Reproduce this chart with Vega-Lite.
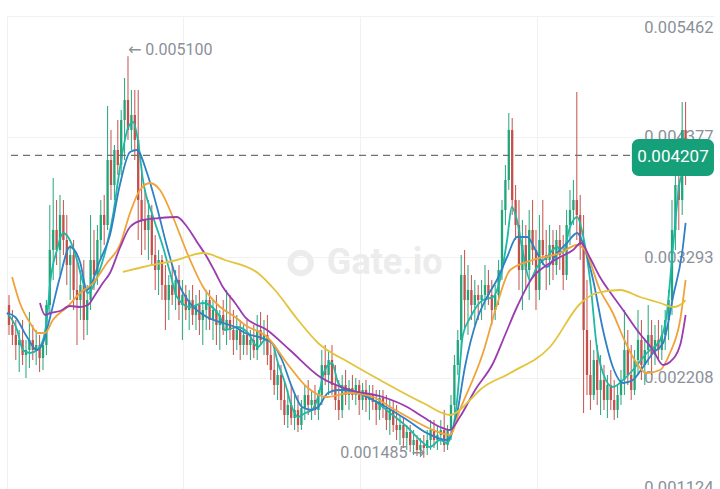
{
"$schema": "https://vega.github.io/schema/vega-lite/v6.json",
"autosize": "none",
"width": 707,
"height": 482,
"padding": {"left": 7, "top": 16, "right": 6, "bottom": 0},
"background": "white",
"config": {"view": {"stroke": null}},
"datasets": {
"candles": [
{"t":0,"open":0.002861,"high":0.002951,"low":0.002591,"close":0.002681},
{"t":1,"open":0.002681,"high":0.002816,"low":0.002501,"close":0.002591},
{"t":2,"open":0.002591,"high":0.002726,"low":0.002366,"close":0.002501},
{"t":3,"open":0.002501,"high":0.002636,"low":0.002258,"close":0.002546},
{"t":4,"open":0.002546,"high":0.002726,"low":0.002321,"close":0.002411},
{"t":5,"open":0.002411,"high":0.002546,"low":0.002204,"close":0.002456},
{"t":6,"open":0.002456,"high":0.002798,"low":0.002294,"close":0.002546},
{"t":7,"open":0.002546,"high":0.002681,"low":0.002366,"close":0.002456},
{"t":8,"open":0.002456,"high":0.002636,"low":0.002321,"close":0.002501},
{"t":9,"open":0.002501,"high":0.002591,"low":0.002258,"close":0.002384},
{"t":10,"open":0.002384,"high":0.002546,"low":0.002276,"close":0.002501},
{"t":11,"open":0.002501,"high":0.002906,"low":0.002411,"close":0.002861},
{"t":12,"open":0.002861,"high":0.003761,"low":0.002771,"close":0.003356},
{"t":13,"open":0.003356,"high":0.004004,"low":0.003086,"close":0.003536},
{"t":14,"open":0.003536,"high":0.003806,"low":0.003221,"close":0.003356},
{"t":15,"open":0.003356,"high":0.003851,"low":0.003131,"close":0.003671},
{"t":16,"open":0.003671,"high":0.003806,"low":0.003311,"close":0.003446},
{"t":17,"open":0.003446,"high":0.003671,"low":0.003041,"close":0.003221},
{"t":18,"open":0.003221,"high":0.003401,"low":0.002906,"close":0.003311},
{"t":19,"open":0.003311,"high":0.003446,"low":0.002816,"close":0.002996},
{"t":20,"open":0.002996,"high":0.003266,"low":0.002501,"close":0.002906},
{"t":21,"open":0.002906,"high":0.003176,"low":0.002726,"close":0.003041},
{"t":22,"open":0.003041,"high":0.003266,"low":0.002546,"close":0.002726},
{"t":23,"open":0.002726,"high":0.003041,"low":0.002591,"close":0.002906},
{"t":24,"open":0.002906,"high":0.003671,"low":0.002816,"close":0.003266},
{"t":25,"open":0.003266,"high":0.003536,"low":0.002996,"close":0.003131},
{"t":26,"open":0.003131,"high":0.003581,"low":0.003041,"close":0.003446},
{"t":27,"open":0.003446,"high":0.003806,"low":0.003266,"close":0.003671},
{"t":28,"open":0.003671,"high":0.003851,"low":0.003401,"close":0.003581},
{"t":29,"open":0.003581,"high":0.004652,"low":0.003536,"close":0.004166},
{"t":30,"open":0.004166,"high":0.004436,"low":0.003806,"close":0.003941},
{"t":31,"open":0.003941,"high":0.004301,"low":0.003806,"close":0.004256},
{"t":32,"open":0.004256,"high":0.004526,"low":0.004031,"close":0.004121},
{"t":33,"open":0.004121,"high":0.004616,"low":0.004031,"close":0.004526},
{"t":34,"open":0.004526,"high":0.004904,"low":0.004166,"close":0.004706},
{"t":35,"open":0.004706,"high":0.005100,"low":0.004346,"close":0.004436},
{"t":36,"open":0.004436,"high":0.004796,"low":0.004256,"close":0.004571},
{"t":37,"open":0.004571,"high":0.004796,"low":0.004166,"close":0.004346},
{"t":38,"open":0.004346,"high":0.004796,"low":0.003446,"close":0.003806},
{"t":39,"open":0.003806,"high":0.004121,"low":0.003311,"close":0.003626},
{"t":40,"open":0.003626,"high":0.003896,"low":0.003356,"close":0.003536},
{"t":41,"open":0.003536,"high":0.003806,"low":0.003266,"close":0.003671},
{"t":42,"open":0.003671,"high":0.003761,"low":0.003221,"close":0.003311},
{"t":43,"open":0.003311,"high":0.003491,"low":0.002996,"close":0.003176},
{"t":44,"open":0.003176,"high":0.003356,"low":0.002951,"close":0.003266},
{"t":45,"open":0.003266,"high":0.003311,"low":0.002906,"close":0.003041},
{"t":46,"open":0.003041,"high":0.003221,"low":0.002636,"close":0.002906},
{"t":47,"open":0.002906,"high":0.003131,"low":0.002726,"close":0.003041},
{"t":48,"open":0.003041,"high":0.003221,"low":0.002861,"close":0.002951},
{"t":49,"open":0.002951,"high":0.003176,"low":0.002816,"close":0.003086},
{"t":50,"open":0.003086,"high":0.003221,"low":0.002726,"close":0.002861},
{"t":51,"open":0.002861,"high":0.003086,"low":0.002546,"close":0.002951},
{"t":52,"open":0.002951,"high":0.003041,"low":0.002726,"close":0.002816},
{"t":53,"open":0.002816,"high":0.002996,"low":0.002636,"close":0.002906},
{"t":54,"open":0.002906,"high":0.003041,"low":0.002681,"close":0.002771},
{"t":55,"open":0.002771,"high":0.002951,"low":0.002636,"close":0.002861},
{"t":56,"open":0.002861,"high":0.002996,"low":0.002591,"close":0.002726},
{"t":57,"open":0.002726,"high":0.002906,"low":0.002501,"close":0.002816},
{"t":58,"open":0.002816,"high":0.002996,"low":0.002636,"close":0.002906},
{"t":59,"open":0.002906,"high":0.002996,"low":0.002636,"close":0.002726},
{"t":60,"open":0.002726,"high":0.002906,"low":0.002546,"close":0.002816},
{"t":61,"open":0.002816,"high":0.002951,"low":0.002501,"close":0.002681},
{"t":62,"open":0.002681,"high":0.002816,"low":0.002456,"close":0.002771},
{"t":63,"open":0.002771,"high":0.002906,"low":0.002591,"close":0.002636},
{"t":64,"open":0.002636,"high":0.002996,"low":0.002501,"close":0.002726},
{"t":65,"open":0.002726,"high":0.002951,"low":0.002546,"close":0.002636},
{"t":66,"open":0.002636,"high":0.002816,"low":0.002411,"close":0.002546},
{"t":67,"open":0.002546,"high":0.002771,"low":0.002456,"close":0.002636},
{"t":68,"open":0.002636,"high":0.002726,"low":0.002366,"close":0.002501},
{"t":69,"open":0.002501,"high":0.002681,"low":0.002411,"close":0.002591},
{"t":70,"open":0.002591,"high":0.002726,"low":0.002411,"close":0.002501},
{"t":71,"open":0.002501,"high":0.002636,"low":0.002366,"close":0.002546},
{"t":72,"open":0.002546,"high":0.002681,"low":0.002384,"close":0.002456},
{"t":73,"open":0.002456,"high":0.002771,"low":0.002366,"close":0.002636},
{"t":74,"open":0.002636,"high":0.002798,"low":0.002501,"close":0.002546},
{"t":75,"open":0.002546,"high":0.002726,"low":0.002411,"close":0.002591},
{"t":76,"open":0.002591,"high":0.002771,"low":0.002321,"close":0.002411},
{"t":77,"open":0.002411,"high":0.002546,"low":0.002186,"close":0.002276},
{"t":78,"open":0.002276,"high":0.002456,"low":0.002051,"close":0.002141},
{"t":79,"open":0.002141,"high":0.002366,"low":0.002006,"close":0.002231},
{"t":80,"open":0.002231,"high":0.002321,"low":0.001916,"close":0.002006},
{"t":81,"open":0.002006,"high":0.002186,"low":0.001781,"close":0.001871},
{"t":82,"open":0.001871,"high":0.002096,"low":0.001754,"close":0.001961},
{"t":83,"open":0.001961,"high":0.002141,"low":0.001781,"close":0.001844},
{"t":84,"open":0.001844,"high":0.002051,"low":0.001736,"close":0.001916},
{"t":85,"open":0.001916,"high":0.002051,"low":0.001718,"close":0.001781},
{"t":86,"open":0.001781,"high":0.002006,"low":0.001736,"close":0.001934},
{"t":87,"open":0.001934,"high":0.002141,"low":0.001826,"close":0.002051},
{"t":88,"open":0.002051,"high":0.002186,"low":0.001871,"close":0.001961},
{"t":89,"open":0.001961,"high":0.002096,"low":0.001826,"close":0.002006},
{"t":90,"open":0.002006,"high":0.002141,"low":0.001871,"close":0.001916},
{"t":91,"open":0.001916,"high":0.002096,"low":0.001826,"close":0.002051},
{"t":92,"open":0.002051,"high":0.002456,"low":0.001961,"close":0.002321},
{"t":93,"open":0.002321,"high":0.002501,"low":0.002141,"close":0.002231},
{"t":94,"open":0.002231,"high":0.002456,"low":0.002051,"close":0.002366},
{"t":95,"open":0.002366,"high":0.002501,"low":0.002051,"close":0.002141},
{"t":96,"open":0.002141,"high":0.002321,"low":0.001916,"close":0.002006},
{"t":97,"open":0.002006,"high":0.002186,"low":0.001826,"close":0.001916},
{"t":98,"open":0.001916,"high":0.002231,"low":0.001844,"close":0.002141},
{"t":99,"open":0.002141,"high":0.002276,"low":0.001961,"close":0.002051},
{"t":100,"open":0.002051,"high":0.002186,"low":0.001916,"close":0.002114},
{"t":101,"open":0.002114,"high":0.002231,"low":0.002006,"close":0.002051},
{"t":102,"open":0.002051,"high":0.002204,"low":0.001961,"close":0.002141},
{"t":103,"open":0.002141,"high":0.002186,"low":0.001871,"close":0.002006},
{"t":104,"open":0.002006,"high":0.002159,"low":0.001916,"close":0.002096},
{"t":105,"open":0.002096,"high":0.002186,"low":0.001898,"close":0.002006},
{"t":106,"open":0.002006,"high":0.002141,"low":0.001826,"close":0.002051},
{"t":107,"open":0.002051,"high":0.002141,"low":0.001916,"close":0.001988},
{"t":108,"open":0.001988,"high":0.002096,"low":0.001781,"close":0.001916},
{"t":109,"open":0.001916,"high":0.002096,"low":0.001826,"close":0.002024},
{"t":110,"open":0.002024,"high":0.002096,"low":0.001844,"close":0.001934},
{"t":111,"open":0.001934,"high":0.002051,"low":0.001736,"close":0.001826},
{"t":112,"open":0.001826,"high":0.002006,"low":0.001691,"close":0.001916},
{"t":113,"open":0.001916,"high":0.002006,"low":0.001718,"close":0.001781},
{"t":114,"open":0.001781,"high":0.001961,"low":0.001646,"close":0.001736},
{"t":115,"open":0.001736,"high":0.001871,"low":0.001601,"close":0.001781},
{"t":116,"open":0.001781,"high":0.001844,"low":0.001574,"close":0.001664},
{"t":117,"open":0.001664,"high":0.001781,"low":0.001556,"close":0.001718},
{"t":118,"open":0.001718,"high":0.001781,"low":0.001538,"close":0.001601},
{"t":119,"open":0.001601,"high":0.001736,"low":0.001511,"close":0.001646},
{"t":120,"open":0.001646,"high":0.001691,"low":0.001502,"close":0.001556},
{"t":121,"open":0.001556,"high":0.001664,"low":0.001493,"close":0.001601},
{"t":122,"open":0.001601,"high":0.001691,"low":0.001485,"close":0.001574},
{"t":123,"open":0.001574,"high":0.001736,"low":0.001511,"close":0.001646},
{"t":124,"open":0.001646,"high":0.001826,"low":0.001556,"close":0.001736},
{"t":125,"open":0.001736,"high":0.001826,"low":0.001574,"close":0.001646},
{"t":126,"open":0.001646,"high":0.001781,"low":0.001556,"close":0.001691},
{"t":127,"open":0.001691,"high":0.001826,"low":0.001601,"close":0.001736},
{"t":128,"open":0.001736,"high":0.001916,"low":0.001538,"close":0.001601},
{"t":129,"open":0.001601,"high":0.001781,"low":0.001556,"close":0.001736},
{"t":130,"open":0.001736,"high":0.002051,"low":0.001646,"close":0.001961},
{"t":131,"open":0.001961,"high":0.002411,"low":0.001871,"close":0.002321},
{"t":132,"open":0.002321,"high":0.002636,"low":0.002231,"close":0.002546},
{"t":133,"open":0.002546,"high":0.003311,"low":0.002456,"close":0.003131},
{"t":134,"open":0.003131,"high":0.003356,"low":0.002636,"close":0.002906},
{"t":135,"open":0.002906,"high":0.003221,"low":0.002591,"close":0.002996},
{"t":136,"open":0.002996,"high":0.003131,"low":0.002726,"close":0.002861},
{"t":137,"open":0.002861,"high":0.003086,"low":0.002681,"close":0.002951},
{"t":138,"open":0.002951,"high":0.003041,"low":0.002726,"close":0.002906},
{"t":139,"open":0.002906,"high":0.003086,"low":0.002726,"close":0.002951},
{"t":140,"open":0.002951,"high":0.003221,"low":0.002816,"close":0.003041},
{"t":141,"open":0.003041,"high":0.003176,"low":0.002861,"close":0.002951},
{"t":142,"open":0.002951,"high":0.003086,"low":0.002681,"close":0.002816},
{"t":143,"open":0.002816,"high":0.003041,"low":0.002726,"close":0.002951},
{"t":144,"open":0.002951,"high":0.003266,"low":0.002861,"close":0.003176},
{"t":145,"open":0.003176,"high":0.003806,"low":0.003086,"close":0.003716},
{"t":146,"open":0.003716,"high":0.004121,"low":0.003581,"close":0.003986},
{"t":147,"open":0.003986,"high":0.004589,"low":0.003896,"close":0.004436},
{"t":148,"open":0.004436,"high":0.004544,"low":0.003671,"close":0.003806},
{"t":149,"open":0.003806,"high":0.003941,"low":0.003446,"close":0.003581},
{"t":150,"open":0.003581,"high":0.003806,"low":0.002996,"close":0.003176},
{"t":151,"open":0.003176,"high":0.003626,"low":0.002816,"close":0.003401},
{"t":152,"open":0.003401,"high":0.003581,"low":0.002996,"close":0.003176},
{"t":153,"open":0.003176,"high":0.003716,"low":0.002906,"close":0.003536},
{"t":154,"open":0.003536,"high":0.003806,"low":0.003221,"close":0.003356},
{"t":155,"open":0.003356,"high":0.003536,"low":0.002816,"close":0.002996},
{"t":156,"open":0.002996,"high":0.003671,"low":0.002906,"close":0.003446},
{"t":157,"open":0.003446,"high":0.003806,"low":0.003221,"close":0.003311},
{"t":158,"open":0.003311,"high":0.003536,"low":0.002996,"close":0.003266},
{"t":159,"open":0.003266,"high":0.003581,"low":0.003041,"close":0.003401},
{"t":160,"open":0.003401,"high":0.003536,"low":0.003086,"close":0.003221},
{"t":161,"open":0.003221,"high":0.003536,"low":0.003131,"close":0.003446},
{"t":162,"open":0.003446,"high":0.003581,"low":0.003176,"close":0.003311},
{"t":163,"open":0.003311,"high":0.003491,"low":0.002996,"close":0.003131},
{"t":164,"open":0.003131,"high":0.003716,"low":0.003086,"close":0.003581},
{"t":165,"open":0.003581,"high":0.003896,"low":0.003401,"close":0.003716},
{"t":166,"open":0.003716,"high":0.003986,"low":0.003581,"close":0.003806},
{"t":167,"open":0.003806,"high":0.004778,"low":0.003446,"close":0.003671},
{"t":168,"open":0.003671,"high":0.003851,"low":0.003266,"close":0.003401},
{"t":169,"open":0.003401,"high":0.003671,"low":0.001889,"close":0.002636},
{"t":170,"open":0.002636,"high":0.003086,"low":0.002051,"close":0.002231},
{"t":171,"open":0.002231,"high":0.002546,"low":0.001916,"close":0.002051},
{"t":172,"open":0.002051,"high":0.002456,"low":0.002006,"close":0.002366},
{"t":173,"open":0.002366,"high":0.002501,"low":0.001961,"close":0.002096},
{"t":174,"open":0.002096,"high":0.002411,"low":0.001871,"close":0.002186},
{"t":175,"open":0.002186,"high":0.002321,"low":0.001916,"close":0.002006},
{"t":176,"open":0.002006,"high":0.002231,"low":0.001844,"close":0.002141},
{"t":177,"open":0.002141,"high":0.002276,"low":0.001916,"close":0.002006},
{"t":178,"open":0.002006,"high":0.002186,"low":0.001826,"close":0.001916},
{"t":179,"open":0.001916,"high":0.002141,"low":0.001844,"close":0.002051},
{"t":180,"open":0.002051,"high":0.002276,"low":0.001961,"close":0.002186},
{"t":181,"open":0.002186,"high":0.002816,"low":0.002051,"close":0.002456},
{"t":182,"open":0.002456,"high":0.002636,"low":0.002141,"close":0.002231},
{"t":183,"open":0.002231,"high":0.002501,"low":0.002006,"close":0.002096},
{"t":184,"open":0.002096,"high":0.002456,"low":0.002051,"close":0.002366},
{"t":185,"open":0.002366,"high":0.002816,"low":0.002231,"close":0.002546},
{"t":186,"open":0.002546,"high":0.002726,"low":0.002186,"close":0.002321},
{"t":187,"open":0.002321,"high":0.002546,"low":0.002141,"close":0.002456},
{"t":188,"open":0.002456,"high":0.002861,"low":0.002321,"close":0.002591},
{"t":189,"open":0.002591,"high":0.002726,"low":0.002231,"close":0.002411},
{"t":190,"open":0.002411,"high":0.002681,"low":0.002321,"close":0.002546},
{"t":191,"open":0.002546,"high":0.002726,"low":0.002366,"close":0.002456},
{"t":192,"open":0.002456,"high":0.002681,"low":0.002366,"close":0.002591},
{"t":193,"open":0.002591,"high":0.002816,"low":0.002456,"close":0.002726},
{"t":194,"open":0.002726,"high":0.002996,"low":0.002546,"close":0.002906},
{"t":195,"open":0.002906,"high":0.003806,"low":0.002771,"close":0.003536},
{"t":196,"open":0.003536,"high":0.004166,"low":0.003356,"close":0.003941},
{"t":197,"open":0.003941,"high":0.004346,"low":0.003536,"close":0.003806},
{"t":198,"open":0.003806,"high":0.004688,"low":0.003671,"close":0.004436},
{"t":199,"open":0.004436,"high":0.004688,"low":0.003941,"close":0.004207}
],
"ma": [
{"s":"MA5","t":-0.6,"v":0.002789},{"s":"MA5","t":2.4,"v":0.002636},{"s":"MA5","t":4.1,"v":0.002456},{"s":"MA5","t":6.2,"v":0.002429},{"s":"MA5","t":8.2,"v":0.002456},{"s":"MA5","t":10,"v":0.002546},{"s":"MA5","t":11.2,"v":0.002753},{"s":"MA5","t":12.1,"v":0.003059},{"s":"MA5","t":14.1,"v":0.003356},{"s":"MA5","t":15.9,"v":0.003509},{"s":"MA5","t":17.9,"v":0.003446},{"s":"MA5","t":20,"v":0.003266},{"s":"MA5","t":21.8,"v":0.003059},{"s":"MA5","t":23.2,"v":0.002969},{"s":"MA5","t":25.9,"v":0.003113},{"s":"MA5","t":28.8,"v":0.003401},{"s":"MA5","t":30.6,"v":0.003671},{"s":"MA5","t":32.1,"v":0.003986},{"s":"MA5","t":33.5,"v":0.004256},{"s":"MA5","t":35,"v":0.004454},{"s":"MA5","t":36.5,"v":0.004508},{"s":"MA5","t":37.9,"v":0.004346},{"s":"MA5","t":39.4,"v":0.003986},{"s":"MA5","t":42.4,"v":0.003653},{"s":"MA5","t":45.3,"v":0.003383},{"s":"MA5","t":47.4,"v":0.003149},{"s":"MA5","t":49.4,"v":0.002933},{"s":"MA5","t":53.2,"v":0.002843},{"s":"MA5","t":57.1,"v":0.002879},{"s":"MA5","t":62.1,"v":0.002753},{"s":"MA5","t":63.5,"v":0.002636},{"s":"MA5","t":67.4,"v":0.002663},{"s":"MA5","t":70.3,"v":0.002609},{"s":"MA5","t":73.2,"v":0.002483},{"s":"MA5","t":75.3,"v":0.002546},{"s":"MA5","t":77.4,"v":0.002519},{"s":"MA5","t":79.1,"v":0.002339},{"s":"MA5","t":81.2,"v":0.002159},{"s":"MA5","t":83.2,"v":0.001943},{"s":"MA5","t":85,"v":0.001853},{"s":"MA5","t":87.1,"v":0.001889},{"s":"MA5","t":89.1,"v":0.001916},{"s":"MA5","t":90.9,"v":0.002033},{"s":"MA5","t":92.9,"v":0.002276},{"s":"MA5","t":95,"v":0.002339},{"s":"MA5","t":96.8,"v":0.002159},{"s":"MA5","t":98.8,"v":0.002096},{"s":"MA5","t":102.4,"v":0.002069},{"s":"MA5","t":107.1,"v":0.002006},{"s":"MA5","t":112.1,"v":0.001889},{"s":"MA5","t":117.1,"v":0.001763},{"s":"MA5","t":120.9,"v":0.001646},{"s":"MA5","t":123.8,"v":0.001583},{"s":"MA5","t":126.8,"v":0.001646},{"s":"MA5","t":128.8,"v":0.001619},{"s":"MA5","t":130.3,"v":0.001709},{"s":"MA5","t":131.8,"v":0.002006},{"s":"MA5","t":133.5,"v":0.002591},{"s":"MA5","t":135.6,"v":0.002744},{"s":"MA5","t":139.4,"v":0.002906},{"s":"MA5","t":142.4,"v":0.002933},{"s":"MA5","t":144.4,"v":0.003086},{"s":"MA5","t":146.5,"v":0.003446},{"s":"MA5","t":147.9,"v":0.003743},{"s":"MA5","t":149.4,"v":0.003626},{"s":"MA5","t":151.2,"v":0.003329},{"s":"MA5","t":153.2,"v":0.003086},{"s":"MA5","t":155.3,"v":0.003203},{"s":"MA5","t":158.2,"v":0.003293},{"s":"MA5","t":161.2,"v":0.003383},{"s":"MA5","t":162.9,"v":0.003329},{"s":"MA5","t":165,"v":0.003563},{"s":"MA5","t":167.1,"v":0.003653},{"s":"MA5","t":168.8,"v":0.003491},{"s":"MA5","t":170.9,"v":0.003086},{"s":"MA5","t":172.9,"v":0.002483},{"s":"MA5","t":174.7,"v":0.002249},{"s":"MA5","t":177.6,"v":0.002123},{"s":"MA5","t":180.6,"v":0.002186},{"s":"MA5","t":183.5,"v":0.002276},{"s":"MA5","t":187.6,"v":0.002429},{"s":"MA5","t":191.5,"v":0.002546},{"s":"MA5","t":193.5,"v":0.002789},{"s":"MA5","t":195.3,"v":0.003383},{"s":"MA5","t":197.4,"v":0.003986},{"s":"MA5","t":198.8,"v":0.004076},
{"s":"MA10","t":-0.6,"v":0.002789},{"s":"MA10","t":1.8,"v":0.002753},{"s":"MA10","t":5.3,"v":0.002573},{"s":"MA10","t":8.2,"v":0.002456},{"s":"MA10","t":10,"v":0.002519},{"s":"MA10","t":12.1,"v":0.002753},{"s":"MA10","t":15,"v":0.003113},{"s":"MA10","t":17.9,"v":0.003383},{"s":"MA10","t":20.9,"v":0.003248},{"s":"MA10","t":22.9,"v":0.002996},{"s":"MA10","t":26.8,"v":0.003266},{"s":"MA10","t":29.7,"v":0.003491},{"s":"MA10","t":32.6,"v":0.003941},{"s":"MA10","t":35.6,"v":0.004238},{"s":"MA10","t":37.6,"v":0.004256},{"s":"MA10","t":40.6,"v":0.004049},{"s":"MA10","t":43.5,"v":0.003743},{"s":"MA10","t":46.5,"v":0.003383},{"s":"MA10","t":49.4,"v":0.003086},{"s":"MA10","t":53.2,"v":0.002879},{"s":"MA10","t":58.2,"v":0.002753},{"s":"MA10","t":62.9,"v":0.002699},{"s":"MA10","t":66.5,"v":0.002663},{"s":"MA10","t":69.4,"v":0.002609},{"s":"MA10","t":74.4,"v":0.002564},{"s":"MA10","t":77.4,"v":0.002519},{"s":"MA10","t":80.3,"v":0.002366},{"s":"MA10","t":83.2,"v":0.002123},{"s":"MA10","t":86.2,"v":0.001943},{"s":"MA10","t":89.1,"v":0.001916},{"s":"MA10","t":90.9,"v":0.001943},{"s":"MA10","t":93.8,"v":0.002069},{"s":"MA10","t":96.8,"v":0.002096},{"s":"MA10","t":99.7,"v":0.002096},{"s":"MA10","t":107.1,"v":0.002006},{"s":"MA10","t":117.1,"v":0.001826},{"s":"MA10","t":122.9,"v":0.001709},{"s":"MA10","t":128.8,"v":0.001646},{"s":"MA10","t":131.8,"v":0.001889},{"s":"MA10","t":134.1,"v":0.002303},{"s":"MA10","t":137.6,"v":0.002726},{"s":"MA10","t":140.6,"v":0.002933},{"s":"MA10","t":143.5,"v":0.003086},{"s":"MA10","t":146.5,"v":0.003293},{"s":"MA10","t":149.4,"v":0.003473},{"s":"MA10","t":152.4,"v":0.003473},{"s":"MA10","t":155.3,"v":0.003329},{"s":"MA10","t":158.2,"v":0.003203},{"s":"MA10","t":161.2,"v":0.003329},{"s":"MA10","t":164.1,"v":0.003419},{"s":"MA10","t":167.1,"v":0.003509},{"s":"MA10","t":168.8,"v":0.003419},{"s":"MA10","t":171.8,"v":0.003086},{"s":"MA10","t":174.7,"v":0.002636},{"s":"MA10","t":177.6,"v":0.002303},{"s":"MA10","t":180.6,"v":0.002159},{"s":"MA10","t":183.5,"v":0.002186},{"s":"MA10","t":186.5,"v":0.002303},{"s":"MA10","t":189.4,"v":0.002429},{"s":"MA10","t":192.4,"v":0.002519},{"s":"MA10","t":195.3,"v":0.002933},{"s":"MA10","t":198.2,"v":0.003383},{"s":"MA10","t":199,"v":0.003600},
{"s":"MA20","t":0.9,"v":0.003113},{"s":"MA20","t":3.2,"v":0.002879},{"s":"MA20","t":6.2,"v":0.002699},{"s":"MA20","t":8.5,"v":0.002609},{"s":"MA20","t":10.6,"v":0.002609},{"s":"MA20","t":12.9,"v":0.002726},{"s":"MA20","t":17.1,"v":0.002843},{"s":"MA20","t":20.9,"v":0.002969},{"s":"MA20","t":24.7,"v":0.003059},{"s":"MA20","t":28.8,"v":0.003239},{"s":"MA20","t":32.6,"v":0.003401},{"s":"MA20","t":35.6,"v":0.003689},{"s":"MA20","t":38.5,"v":0.003896},{"s":"MA20","t":41.5,"v":0.003959},{"s":"MA20","t":44.4,"v":0.003896},{"s":"MA20","t":48.2,"v":0.003653},{"s":"MA20","t":52.4,"v":0.003329},{"s":"MA20","t":57.1,"v":0.003023},{"s":"MA20","t":62.1,"v":0.002843},{"s":"MA20","t":66.5,"v":0.002753},{"s":"MA20","t":69.4,"v":0.002681},{"s":"MA20","t":75.9,"v":0.002573},{"s":"MA20","t":82.6,"v":0.002303},{"s":"MA20","t":87.6,"v":0.002123},{"s":"MA20","t":93.5,"v":0.002033},{"s":"MA20","t":100.3,"v":0.002069},{"s":"MA20","t":107.1,"v":0.002033},{"s":"MA20","t":112.1,"v":0.001943},{"s":"MA20","t":118.8,"v":0.001826},{"s":"MA20","t":124.7,"v":0.001736},{"s":"MA20","t":129.7,"v":0.001691},{"s":"MA20","t":132.6,"v":0.001916},{"s":"MA20","t":139.4,"v":0.002429},{"s":"MA20","t":143.5,"v":0.002861},{"s":"MA20","t":147.4,"v":0.003176},{"s":"MA20","t":154.1,"v":0.003266},{"s":"MA20","t":162.1,"v":0.003329},{"s":"MA20","t":167.1,"v":0.003401},{"s":"MA20","t":169.4,"v":0.003356},{"s":"MA20","t":173.8,"v":0.002996},{"s":"MA20","t":177.6,"v":0.002789},{"s":"MA20","t":180.6,"v":0.002573},{"s":"MA20","t":183.5,"v":0.002393},{"s":"MA20","t":187.6,"v":0.002249},{"s":"MA20","t":191.5,"v":0.002276},{"s":"MA20","t":194.4,"v":0.002429},{"s":"MA20","t":197.4,"v":0.002726},{"s":"MA20","t":199,"v":0.003086},
{"s":"MA30","t":9.1,"v":0.002879},{"s":"MA30","t":10.6,"v":0.002771},{"s":"MA30","t":12.1,"v":0.002789},{"s":"MA30","t":15,"v":0.002807},{"s":"MA30","t":17.9,"v":0.002852},{"s":"MA30","t":20.9,"v":0.002843},{"s":"MA30","t":23.2,"v":0.002861},{"s":"MA30","t":25.3,"v":0.002951},{"s":"MA30","t":27.6,"v":0.003059},{"s":"MA30","t":29.7,"v":0.003149},{"s":"MA30","t":32.6,"v":0.003374},{"s":"MA30","t":35.6,"v":0.003563},{"s":"MA30","t":39.4,"v":0.003626},{"s":"MA30","t":44.4,"v":0.003644},{"s":"MA30","t":49.4,"v":0.003653},{"s":"MA30","t":52.4,"v":0.003563},{"s":"MA30","t":55.3,"v":0.003428},{"s":"MA30","t":58.2,"v":0.003293},{"s":"MA30","t":60.6,"v":0.003158},{"s":"MA30","t":62.9,"v":0.003023},{"s":"MA30","t":66.5,"v":0.002879},{"s":"MA30","t":69.4,"v":0.002753},{"s":"MA30","t":75.9,"v":0.002636},{"s":"MA30","t":82.6,"v":0.002456},{"s":"MA30","t":91.5,"v":0.002213},{"s":"MA30","t":100.3,"v":0.002096},{"s":"MA30","t":110,"v":0.002033},{"s":"MA30","t":117.1,"v":0.001943},{"s":"MA30","t":121.8,"v":0.001853},{"s":"MA30","t":126.8,"v":0.001763},{"s":"MA30","t":129.7,"v":0.001736},{"s":"MA30","t":132.6,"v":0.001853},{"s":"MA30","t":137.1,"v":0.002096},{"s":"MA30","t":142.4,"v":0.002339},{"s":"MA30","t":145.9,"v":0.002591},{"s":"MA30","t":149.4,"v":0.002843},{"s":"MA30","t":154.1,"v":0.003113},{"s":"MA30","t":158.2,"v":0.003221},{"s":"MA30","t":162.1,"v":0.003293},{"s":"MA30","t":165.9,"v":0.003356},{"s":"MA30","t":168.2,"v":0.003419},{"s":"MA30","t":170.9,"v":0.003284},{"s":"MA30","t":173.8,"v":0.003113},{"s":"MA30","t":177.4,"v":0.002951},{"s":"MA30","t":180.6,"v":0.002816},{"s":"MA30","t":184.7,"v":0.002636},{"s":"MA30","t":189.4,"v":0.002456},{"s":"MA30","t":192.4,"v":0.002321},{"s":"MA30","t":194.4,"v":0.002348},{"s":"MA30","t":197.4,"v":0.002501},{"s":"MA30","t":199,"v":0.002771},
{"s":"MA60","t":33.5,"v":0.003158},{"s":"MA60","t":39.4,"v":0.003203},{"s":"MA60","t":49.4,"v":0.003266},{"s":"MA60","t":57.1,"v":0.003329},{"s":"MA60","t":63.5,"v":0.003266},{"s":"MA60","t":73.2,"v":0.003149},{"s":"MA60","t":78.2,"v":0.002996},{"s":"MA60","t":85,"v":0.002726},{"s":"MA60","t":90.9,"v":0.002519},{"s":"MA60","t":100.3,"v":0.002339},{"s":"MA60","t":109.1,"v":0.002186},{"s":"MA60","t":121.8,"v":0.001979},{"s":"MA60","t":129.7,"v":0.001871},{"s":"MA60","t":135.6,"v":0.002006},{"s":"MA60","t":138.5,"v":0.002096},{"s":"MA60","t":147.4,"v":0.002249},{"s":"MA60","t":159.1,"v":0.002483},{"s":"MA60","t":168.2,"v":0.002879},{"s":"MA60","t":172.9,"v":0.002969},{"s":"MA60","t":179.7,"v":0.002996},{"s":"MA60","t":185.6,"v":0.002933},{"s":"MA60","t":191.5,"v":0.002879},{"s":"MA60","t":195.3,"v":0.002843},{"s":"MA60","t":198.2,"v":0.002879},{"s":"MA60","t":199,"v":0.002906}
],
"last": [{"price": 0.004207}],
"one": [{}]
},
"layer": [
{
"data": {"name": "one"},
"mark": {"type": "text", "font": "Roboto", "fontWeight": "bold", "fontSize": 36, "color": "#ececec", "align": "center", "baseline": "middle"},
"encoding": {
"x": {"datum": 110.5, "type": "quantitative", "scale": {"domain": [-0.588, 207.353], "nice": false, "zero": false},
"axis": {"values": [-0.588, 51.176, 103.235, 155.294], "grid": true, "gridColor": "#f1f1f1", "gridWidth": 1, "labels": false, "ticks": false, "domain": false, "title": null}},
"y": {"datum": 0.003239, "type": "quantitative", "scale": {"domain": [0.001124, 0.005462], "nice": false, "zero": false},
"axis": {"orient": "right", "values": [0.001124, 0.002208, 0.003293, 0.004377, 0.005462], "format": ".6f", "grid": true, "gridColor": "#f1f1f1", "gridWidth": 1, "ticks": false, "domain": false, "title": null, "labelAlign": "right", "labelPadding": -1, "labelFont": "Roboto", "labelFontSize": 16.5, "labelColor": "#8b9099", "labelFlush": true, "labelFlushOffset": -3}},
"text": {"value": "Gate.io"}
}
},
{
"data": {"name": "one"},
"mark": {"type": "point", "shape": "circle", "filled": false, "strokeWidth": 6, "size": 420, "color": "#ececec", "opacity": 1},
"encoding": {
"x": {"datum": 85.8, "type": "quantitative"},
"y": {"datum": 0.003239, "type": "quantitative"}
}
},
{
"data": {"name": "candles"},
"mark": {"type": "rule", "strokeWidth": 1},
"encoding": {
"x": {"field": "t", "type": "quantitative"},
"y": {"field": "low", "type": "quantitative"},
"y2": {"field": "high"},
"color": {"condition": {"test": "datum.close >= datum.open", "value": "#22a57a"}, "value": "#c4504c"}
}
},
{
"data": {"name": "candles"},
"mark": {"type": "rule", "strokeWidth": 2.3},
"encoding": {
"x": {"field": "t", "type": "quantitative"},
"y": {"field": "open", "type": "quantitative"},
"y2": {"field": "close"},
"color": {"condition": {"test": "datum.close >= datum.open", "value": "#22a57a"}, "value": "#c4504c"}
}
},
{
"data": {"name": "ma"},
"mark": {"type": "line", "strokeWidth": 1.8, "interpolate": "monotone"},
"encoding": {
"x": {"field": "t", "type": "quantitative"},
"y": {"field": "v", "type": "quantitative"},
"color": {"field": "s", "type": "nominal", "legend": null,
"scale": {"domain": ["MA60", "MA30", "MA20", "MA10", "MA5"], "range": ["#e3c43c", "#9b3bb0", "#f0a33a", "#2f80c4", "#1fb8a6"]}},
"order": {"field": "t"}
}
},
{
"data": {"name": "last"},
"mark": {"type": "rule", "strokeDash": [7, 5], "strokeWidth": 1.2, "color": "#707070"},
"encoding": {"y": {"field": "price", "type": "quantitative"}}
},
{
"data": {"name": "one"},
"mark": {"type": "rect", "cornerRadius": 7, "color": "#16a07a"},
"encoding": {
"x": {"datum": 183.2, "type": "quantitative"},
"x2": {"datum": 207.35},
"y": {"datum": 0.004355, "type": "quantitative"},
"y2": {"datum": 0.004022}
}
},
{
"data": {"name": "last"},
"mark": {"type": "text", "font": "Roboto", "fontSize": 17, "color": "white", "align": "center", "baseline": "middle", "dy": 2},
"encoding": {
"x": {"datum": 195.3, "type": "quantitative"},
"y": {"field": "price", "type": "quantitative"},
"text": {"field": "price", "type": "quantitative", "format": ".6f"}
}
},
{
"data": {"values": [{"t": 35, "price": 0.0051, "label": "← 0.005100"}]},
"mark": {"type": "text", "font": "Roboto, DejaVu Sans", "fontSize": 16, "color": "#8b9099", "align": "left", "baseline": "middle", "dy": -6, "dx": 0},
"encoding": {
"x": {"field": "t", "type": "quantitative"},
"y": {"field": "price", "type": "quantitative"},
"text": {"field": "label"}
}
},
{
"data": {"values": [{"t": 122, "price": 0.001485, "label": "0.001485 →"}]},
"mark": {"type": "text", "font": "Roboto, DejaVu Sans", "fontSize": 16, "color": "#8b9099", "align": "right", "baseline": "middle", "dy": -5, "dx": 1},
"encoding": {
"x": {"field": "t", "type": "quantitative"},
"y": {"field": "price", "type": "quantitative"},
"text": {"field": "label"}
}
}
]
}
